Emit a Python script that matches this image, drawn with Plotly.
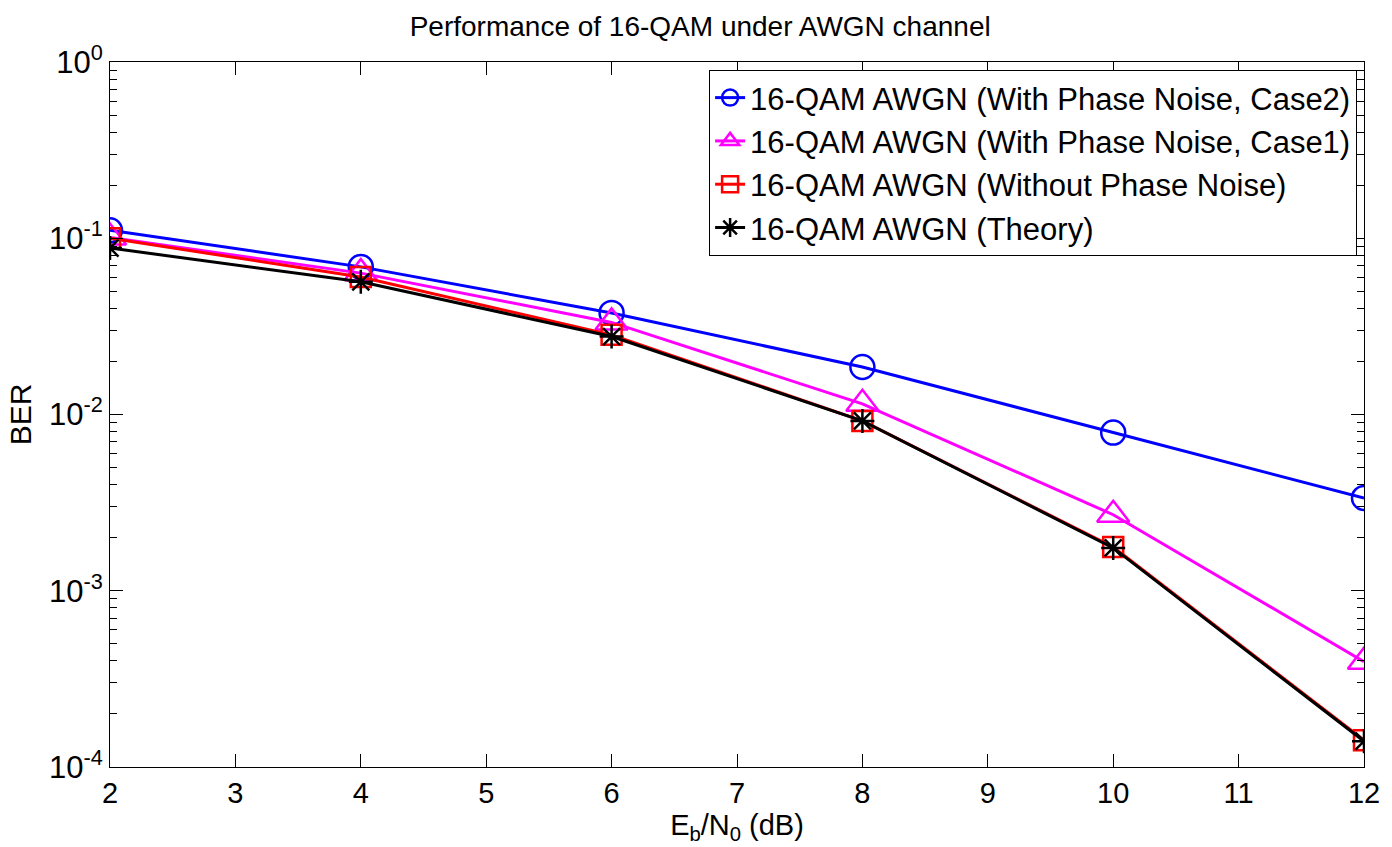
import plotly.graph_objects as go

ebn0 = [2, 4, 6, 8, 10, 12]
ber_case2 = [0.111, 0.0688, 0.0377, 0.0186, 0.0079, 0.00336]
ber_case1 = [0.101, 0.0634, 0.0333, 0.0115, 0.0027, 0.000396]
ber_nopn = [0.100, 0.0603, 0.0283, 0.0092, 0.00177, 0.000142]
ber_theory = [0.088, 0.0566, 0.0277, 0.0092, 0.00175, 0.000140]

names = [
    "16-QAM AWGN (With Phase Noise, Case2)",
    "16-QAM AWGN (With Phase Noise, Case1)",
    "16-QAM AWGN (Without Phase Noise)",
    "16-QAM AWGN (Theory)",
]
colors = ["#0000FF", "#FF00FF", "#FF0000", "#000000"]
symbols = ["circle-open", "triangle-up-open", "square-open", "asterisk-open"]
sizes = [24, 28, 20, 20]
series = [ber_case2, ber_case1, ber_nopn, ber_theory]

y_tickvals = [1e-4, 1e-3, 1e-2, 1e-1, 1]
y_ticktext = ["10<sup>-4</sup>", "10<sup>-3</sup>", "10<sup>-2</sup>", "10<sup>-1</sup>", "10<sup>0</sup>"]
x_tickvals = [2, 3, 4, 5, 6, 7, 8, 9, 10, 11, 12]

FONT = "Liberation Sans, Arial, sans-serif"

fig = go.Figure()
for name, ys, c, s, sz in zip(names, series, colors, symbols, sizes):
    fig.add_trace(go.Scatter(
        x=ebn0, y=ys, name=name, mode="lines+markers",
        line=dict(color=c, width=3),
        marker=dict(symbol=s, size=sz, color=c, line=dict(color=c, width=2.5)),
    ))

minor_vals = [m * 10.0 ** e for e in range(-4, 0) for m in range(2, 10)]

fig.update_layout(
    width=1392, height=847,
    margin=dict(l=110, r=17, t=62, b=80),
    paper_bgcolor="white", plot_bgcolor="white",
    font=dict(family=FONT, size=29, color="black"),
    title=dict(text="Performance of 16-QAM under AWGN channel", x=0.503, xanchor="center",
               y=1 - 26 / 847, yanchor="middle", font=dict(size=28, family=FONT, color="black")),
    showlegend=True,
    legend=dict(x=0.9945, y=0.9887, xanchor="right", yanchor="top",
                bgcolor="white", bordercolor="black", borderwidth=1,
                font=dict(size=31, family=FONT, color="black"),
                tracegroupgap=0, itemsizing="trace"),
)

fig.update_xaxes(
    range=[2, 12], tickmode="array", tickvals=x_tickvals,
    ticks="inside", ticklen=13, tickwidth=1, tickcolor="black",
    showline=True, linecolor="black", linewidth=1, mirror="ticks",
    showgrid=False, zeroline=False,
    tickfont=dict(size=29, family=FONT),
    title=dict(text="E<sub>b</sub>/N<sub>0</sub> (dB)", standoff=0, font=dict(size=29, family=FONT)),
)
fig.update_yaxes(
    type="log", range=[-4, 0], tickmode="array", tickvals=y_tickvals, ticktext=y_ticktext,
    ticks="inside", ticklen=13, tickwidth=1, tickcolor="black",
    showline=True, linecolor="black", linewidth=1, mirror="allticks",
    showgrid=False, zeroline=False,
    tickfont=dict(size=31, family=FONT),
    minor=dict(tickmode="array", tickvals=minor_vals, ticks="inside", ticklen=7,
               tickwidth=1, tickcolor="black", showgrid=False),
    title=dict(text="BER", standoff=8, font=dict(size=30, family=FONT)),
)

fig.write_html("out.html")
